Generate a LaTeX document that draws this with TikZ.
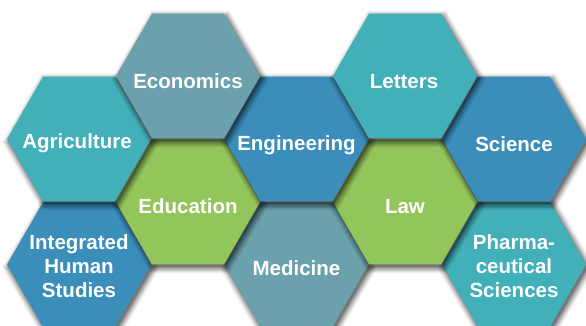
\documentclass[tikz,border=0pt]{standalone}
\usepackage{fontspec}
\setmainfont{Liberation Sans}
\definecolor{cgray}{HTML}{6AA1AC}
\definecolor{cteal}{HTML}{41B0B8}
\definecolor{cblue}{HTML}{3B8DBA}
\definecolor{cgreen}{HTML}{92C55A}
\newcommand\hexat[3]{(#1+#3,#2) -- (#1+0.5*#3,#2+0.866*#3) -- (#1-0.5*#3,#2+0.866*#3) -- (#1-#3,#2) -- (#1-0.5*#3,#2-0.866*#3) -- (#1+0.5*#3,#2-0.866*#3) -- cycle}
\newcommand\hexcell[4]{% x y colour
  \foreach \rr/\oo in {79/0.05, 77.5/0.08, 76/0.1, 74.5/0.12, 73/0.15, 71.5/0.2}{
    \fill[black,opacity=\oo] \hexat{#1+2}{#2+3}{\rr};
  }
  \fill[#3] \hexat{#1}{#2}{72};
}
\tikzset{
  lbl/.style={text=white, font=\bfseries\fontsize{20.5}{24}\selectfont, inner sep=0pt, anchor=base},
  lbl3/.style={text=white, font=\bfseries\fontsize{20.5}{24}\selectfont, inner sep=0pt, align=center, anchor=center}
}
\begin{document}
\begin{tikzpicture}[x=1pt,y=-1pt]
\fill[white] (0,0) rectangle (586,325);
\useasboundingbox (0,0) rectangle (586,325);
% row D
\hexcell{79}{264.5}{cblue}{}
\node[lbl3] (ihs) at (79,266.5) {Integrated\\Human\\Studies};
\hexcell{296.5}{264.5}{cgray}{}
\node[lbl] (med) at (296.5,275.5) {Medicine};
\hexcell{514}{264.5}{cteal}{}
\node[lbl3] (pha) at (514,266.5) {Pharma-\\ceutical\\Sciences};
% row C
\hexcell{188}{202}{cgreen}{}
\node[lbl] (edu) at (188,213) {Education};
\hexcell{405}{202}{cgreen}{}
\node[lbl] (law) at (405,213) {Law};
% row B
\hexcell{79}{139}{cteal}{}
\node[lbl] (agr) at (77,148) {Agriculture};
\hexcell{296.5}{139}{cblue}{}
\node[lbl] (eng) at (296.5,150) {Engineering};
\hexcell{514}{139}{cblue}{}
\node[lbl] (sci) at (514,151) {Science};
% row A
\hexcell{188}{76}{cgray}{}
\node[lbl] (eco) at (188,88.5) {Economics};
\hexcell{405}{76}{cteal}{}
\node[lbl] (let) at (404,88.5) {Letters};
\end{tikzpicture}
\end{document}
